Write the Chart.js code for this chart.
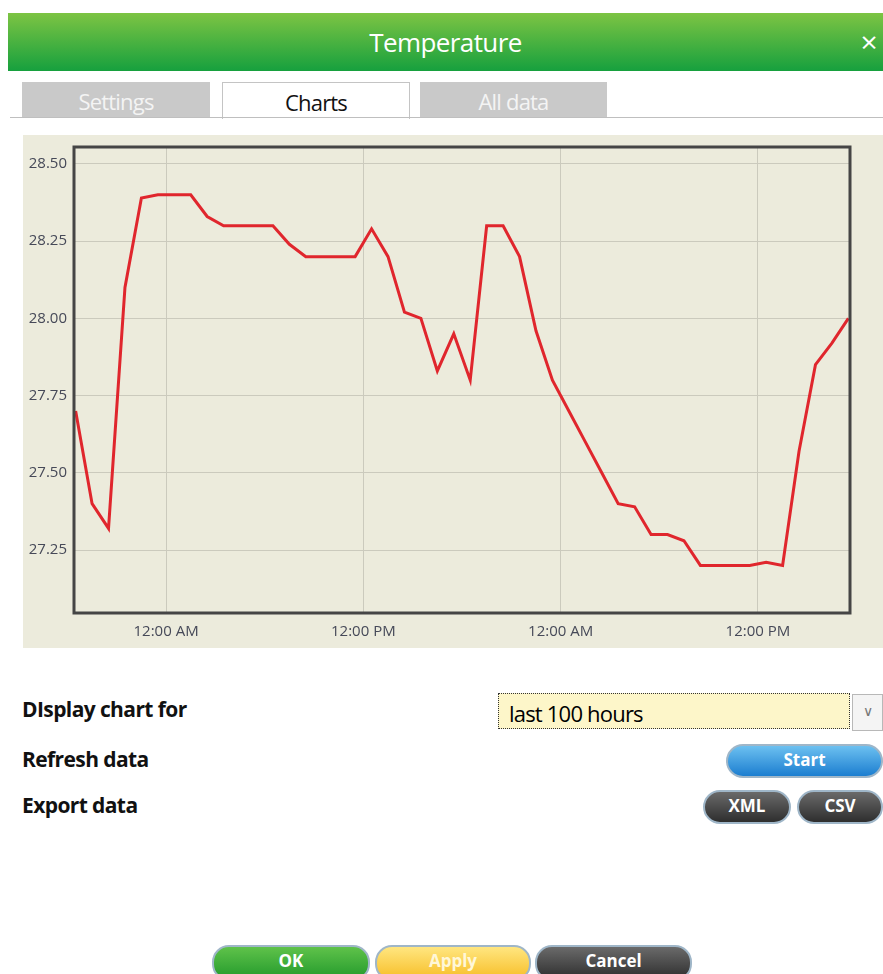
<!doctype html>
<html lang="en">
  <head>
    <meta charset="UTF-8" />
    <title>Temperature</title>
    <script src="https://cdn.jsdelivr.net/npm/chart.js"></script>
    <style>
      body,
      html {
        margin: 0;
        padding: 0;
        background: #fff;
        width: 883px;
        height: 974px;
        overflow: hidden;
        font-family: "Open Sans", "Noto Sans", sans-serif;
      }
      .header {
        position: absolute;
        left: 8px;
        top: 13px;
        width: 875px;
        height: 58px;
        background: linear-gradient(#7dc443, #16a03e);
        color: #fff;
        font-size: 26px;
        line-height: 58px;
        text-align: center;
        letter-spacing: -0.6px;
      }
      .header .close {
        position: absolute;
        right: 6px;
        top: 0;
        font-size: 30px;
      }
      .tabline {
        position: absolute;
        left: 10px;
        top: 117px;
        width: 873px;
        height: 1px;
        background: #bfbfbf;
      }
      .tab {
        position: absolute;
        top: 82px;
        height: 35px;
        line-height: 38px;
        text-align: center;
        font-size: 22px;
        letter-spacing: -0.8px;
        background: #c9c9c9;
        color: #f4f4f4;
      }
      .tab.active {
        background: #fff;
        color: #111;
        border: 1px solid #c4c4c4;
        border-bottom: none;
        height: 36px;
      }
      .panel {
        position: absolute;
        left: 23px;
        top: 135px;
        width: 860px;
        height: 513px;
        background: #ecebdc;
      }
      .label {
        position: absolute;
        left: 22px;
        font-size: 21px;
        font-weight: bold;
        letter-spacing: -0.6px;
        color: #111;
      }
      .select {
        position: absolute;
        left: 498px;
        top: 693px;
        width: 352px;
        height: 36px;
        background: #fdf6c9;
        border: 1px dotted #333;
        font-size: 22px;
        line-height: 38px;
        padding-left: 10px;
        box-sizing: border-box;
        letter-spacing: -0.8px;
      }
      .arrow {
        position: absolute;
        left: 852px;
        top: 694px;
        width: 29px;
        height: 35px;
        border: 1px solid #b8b8b8;
        background: #f4f4f4;
        color: #777;
        text-align: center;
        line-height: 32px;
        font-size: 14px;
      }
      .btn {
        position: absolute;
        height: 31px;
        border-radius: 17px;
        border: 2px solid #9fb6c8;
        color: #fff;
        font-weight: bold;
        font-size: 17px;
        text-align: center;
        line-height: 28px;
        box-sizing: border-box;
      }
      .dark {
        background: linear-gradient(#6a6a6a, #2e2e2e);
      }
      .blue {
        background: linear-gradient(#6cc0f0, #1c7ed0);
      }
      .green {
        background: linear-gradient(#5fc24a, #239a2c);
      }
      .yellow {
        background: linear-gradient(#ffe680, #f7be28);
        color: #fff7d8;
      }
      #chart {
        position: absolute;
        left: 23px;
        top: 135px;
      }
    </style>
  </head>
  <body>
    <div class="header">Temperature<span class="close">×</span></div>
    <div class="tab" style="left: 22px; width: 188px">Settings</div>
    <div class="tab active" style="left: 222px; width: 186px">Charts</div>
    <div class="tab" style="left: 420px; width: 187px">All data</div>
    <div class="tabline"></div>

    <div class="panel"></div>
    <canvas id="chart" width="860" height="513"></canvas>

    <div class="label" style="top: 695px">DIsplay chart for</div>
    <div class="label" style="top: 745px">Refresh data</div>
    <div class="label" style="top: 791px">Export data</div>
    <div class="select">last 100 hours</div>
    <div class="arrow">&#8744;</div>
    <div class="btn blue" style="left: 726px; top: 744px; width: 157px; height: 34px">Start</div>
    <div class="btn dark" style="left: 703px; top: 790px; width: 88px; height: 34px">XML</div>
    <div class="btn dark" style="left: 797px; top: 790px; width: 86px; height: 34px">CSV</div>

    <div class="btn green" style="left: 212px; top: 945px; width: 158px; height: 36px">OK</div>
    <div class="btn yellow" style="left: 375px; top: 945px; width: 156px; height: 36px">Apply</div>
    <div class="btn dark" style="left: 535px; top: 945px; width: 157px; height: 36px">Cancel</div>

    <script>
      // hours relative to the first midnight shown
      const hours = [
        -5.5, -4.5, -3.5, -2.5, -1.5, -0.5, 0.5, 1.5, 2.5, 3.5, 4.5, 5.5, 6.5,
        7.5, 8.5, 9.5, 10.5, 11.5, 12.5, 13.5, 14.5, 15.5, 16.5, 17.5, 18.5,
        19.5, 20.5, 21.5, 22.5, 23.5, 24.5, 25.5, 26.5, 27.5, 28.5, 29.5, 30.5,
        31.5, 32.5, 33.5, 34.5, 35.5, 36.5, 37.5, 38.5, 39.5, 40.5, 41.5,
      ];
      const temps = [
        27.7, 27.4, 27.32, 28.1, 28.39, 28.4, 28.4, 28.4, 28.33, 28.3, 28.3,
        28.3, 28.3, 28.24, 28.2, 28.2, 28.2, 28.2, 28.29, 28.2, 28.02, 28.0,
        27.83, 27.95, 27.8, 28.3, 28.3, 28.2, 27.96, 27.8, 27.7, 27.6, 27.5,
        27.4, 27.39, 27.3, 27.3, 27.28, 27.2, 27.2, 27.2, 27.2, 27.21, 27.2,
        27.57, 27.85, 27.92, 28.0,
      ];
      const xTickHours = [0, 12, 24, 36];
      const xTickLabels = ["12:00 AM", "12:00 PM", "12:00 AM", "12:00 PM"];
      const yTicks = [27.25, 27.5, 27.75, 28.0, 28.25, 28.5];

      const tickFont = { family: "'Open Sans', 'Noto Sans', sans-serif", size: 15 };
      const tickColor = "#464958";
      const gridColor = "#cbcabd";

      // dark frame around the plot area
      const framePlugin = {
        id: "frame",
        afterDraw(chart) {
          const { ctx, chartArea } = chart;
          ctx.save();
          ctx.strokeStyle = "#454545";
          ctx.lineWidth = 3;
          ctx.strokeRect(
            chartArea.left,
            chartArea.top,
            chartArea.right - chartArea.left,
            chartArea.bottom - chartArea.top,
          );
          ctx.restore();
        },
      };

      new Chart(document.getElementById("chart"), {
        type: "line",
        data: {
          datasets: [
            {
              data: hours.map((h, i) => ({ x: h, y: temps[i] })),
              borderColor: "#e0262d",
              borderWidth: 3,
              pointRadius: 0,
              tension: 0,
            },
          ],
        },
        options: {
          responsive: false,
          animation: false,
          layout: { padding: { top: 12, right: 33, left: 0, bottom: 0 } },
          plugins: {
            legend: { display: false },
            tooltip: { enabled: false },
          },
          scales: {
            x: {
              type: "linear",
              min: -5.6,
              max: 41.6,
              afterBuildTicks: (scale) => {
                scale.ticks = xTickHours.map((v) => ({ value: v }));
              },
              afterFit: (scale) => {
                scale.height = 35;
                scale.paddingLeft = 0;
                scale.paddingRight = 0;
              },
              ticks: {
                font: tickFont,
                color: tickColor,
                padding: 10,
                maxRotation: 0,
                callback: (v) => xTickLabels[xTickHours.indexOf(v)],
              },
              grid: { color: gridColor, drawTicks: false },
              border: { display: false },
            },
            y: {
              min: 27.046,
              max: 28.555,
              afterBuildTicks: (scale) => {
                scale.ticks = yTicks.map((v) => ({ value: v }));
              },
              afterFit: (scale) => {
                scale.width = 51;
                scale.paddingTop = 0;
                scale.paddingBottom = 0;
              },
              ticks: {
                font: tickFont,
                color: tickColor,
                padding: 7,
                callback: (v) => v.toFixed(2),
              },
              grid: { color: gridColor, drawTicks: false },
              border: { display: false },
            },
          },
        },
        plugins: [framePlugin],
      });
    </script>
  </body>
</html>
